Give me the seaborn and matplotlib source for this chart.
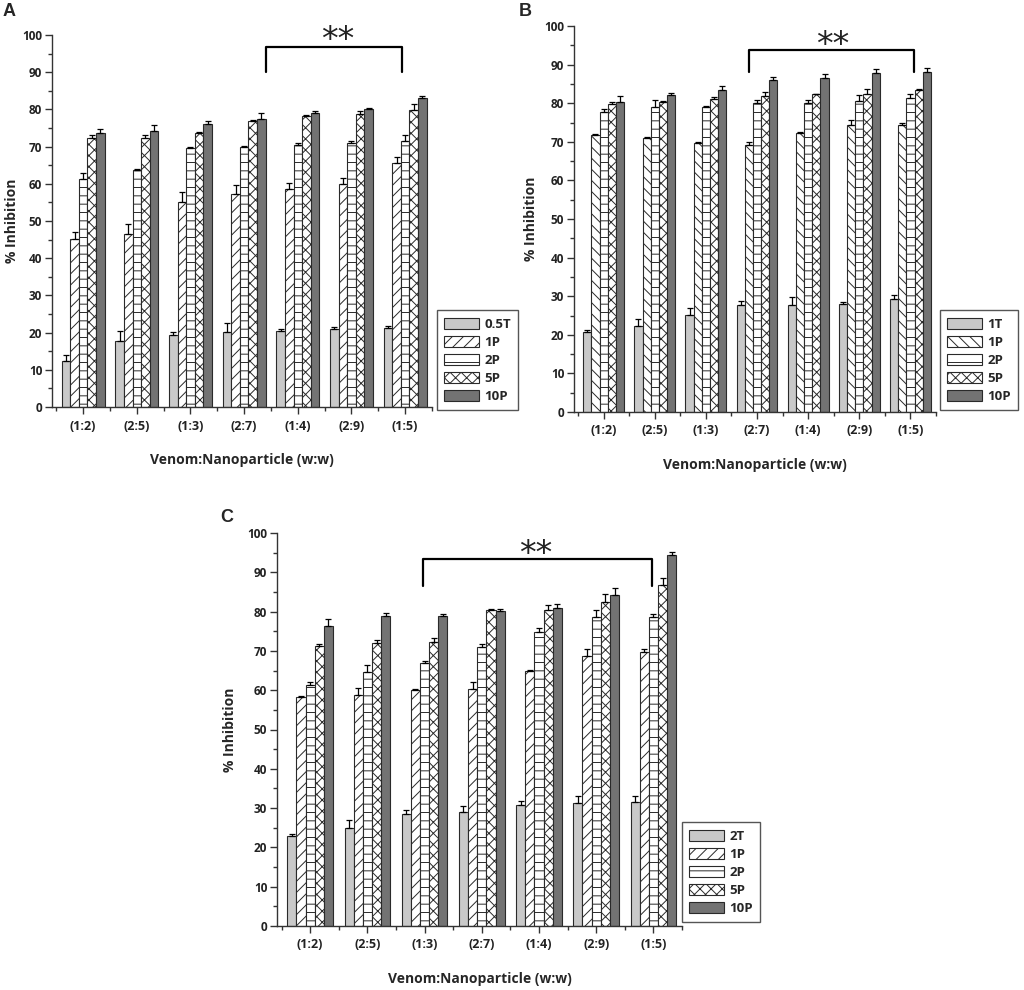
#!/usr/bin/env python3
import numpy as np
import matplotlib
matplotlib.use("Agg")
import matplotlib.pyplot as plt
from matplotlib.ticker import MultipleLocator, FixedLocator
import seaborn as sns
import pandas as pd

# x categories shared by all three panels
RATIOS = ["(1:2)", "(2:5)", "(1:3)", "(2:7)", "(1:4)", "(2:9)", "(1:5)"]

# legend labels per panel (first series differs)
LABELS_A = ["0.5T", "1P", "2P", "5P", "10P"]
LABELS_B = ["1T", "1P", "2P", "5P", "10P"]
LABELS_C = ["2T", "1P", "2P", "5P", "10P"]

# % inhibition, one row per series, one column per ratio
MEANS_A = [
    [12.5, 17.8, 19.3, 20.2, 20.5, 21.0, 21.3],
    [45.1, 46.6, 55.2, 57.2, 58.5, 60.0, 65.5],
    [61.3, 63.7, 69.6, 70.0, 70.5, 71.0, 71.4],
    [72.3, 72.2, 73.6, 77.0, 78.2, 78.7, 79.8],
    [73.7, 74.1, 76.0, 77.4, 79.1, 80.2, 83.0],
]
ERRS_A = [
    [1.6, 2.7, 0.8, 2.5, 0.4, 0.5, 0.5],
    [2.0, 2.5, 2.7, 2.5, 1.7, 1.6, 1.7],
    [1.7, 0.4, 0.4, 0.2, 0.5, 0.4, 1.7],
    [0.8, 0.8, 0.4, 0.2, 0.4, 0.8, 1.6],
    [0.9, 1.7, 0.8, 1.6, 0.4, 0.2, 0.5],
]

MEANS_B = [
    [20.8, 22.2, 25.2, 27.8, 27.8, 28.1, 29.4],
    [71.8, 71.0, 69.7, 69.2, 72.3, 74.4, 74.3],
    [77.7, 78.9, 79.0, 80.0, 80.0, 80.6, 81.4],
    [79.9, 80.3, 81.2, 81.8, 82.3, 82.4, 83.4],
    [80.4, 82.2, 83.5, 86.0, 86.4, 87.7, 88.1],
]
ERRS_B = [
    [0.4, 1.9, 1.8, 0.9, 2.0, 0.4, 0.8],
    [0.2, 0.2, 0.3, 0.8, 0.2, 1.3, 0.7],
    [0.9, 1.8, 0.3, 0.8, 0.7, 1.6, 0.9],
    [0.3, 0.3, 0.5, 1.1, 0.2, 1.4, 0.4],
    [1.5, 0.5, 0.9, 0.9, 1.1, 1.1, 1.0],
]

MEANS_C = [
    [23.0, 25.0, 28.6, 28.9, 30.8, 31.3, 31.6],
    [58.2, 58.8, 60.0, 60.2, 64.8, 68.8, 69.7],
    [61.2, 64.7, 67.0, 70.9, 74.8, 78.6, 78.5],
    [71.3, 72.0, 72.3, 80.4, 80.4, 82.4, 86.8],
    [76.3, 78.9, 79.0, 80.2, 81.0, 84.3, 94.4],
]
ERRS_C = [
    [0.4, 1.9, 0.8, 1.7, 0.9, 1.8, 1.6],
    [0.3, 1.8, 0.4, 1.9, 0.4, 1.6, 0.8],
    [0.9, 1.7, 0.4, 0.8, 1.0, 1.7, 0.9],
    [0.4, 0.7, 0.9, 0.3, 1.2, 2.2, 1.7],
    [1.7, 0.7, 0.5, 0.5, 0.9, 1.7, 0.7],
]

FILL = ["#c9c9c9", "white", "white", "white", "#737373"]
HATCH_FWD = ["", "///", "--", "xxx", ""]
HATCH_BACK = ["", "\\\\\\", "--", "xxx", ""]

YLABEL = "% Inhibition"
XLABEL = "Venom:Nanoparticle (w:w)"

W, H = 1024, 990


def px_axes(fig, left, right, top, bottom):
    # pixel box -> figure fraction
    return fig.add_axes([left / W, 1 - bottom / H, (right - left) / W,
                         (bottom - top) / H])


def draw_panel(fig, ax, means, errs, labels, hatches, legend_xy, bracket,
               ylabel_x):
    rows = []
    for lab, vals in zip(labels, means):
        for r, v in zip(RATIOS, vals):
            rows.append([r, lab, v])
    df = pd.DataFrame(rows, columns=["ratio", "series", "value"])

    palette = dict(zip(labels, FILL))
    sns.barplot(data=df, x="ratio", y="value", hue="series",
                order=RATIOS, hue_order=labels, palette=palette,
                saturation=1, edgecolor="#2a2a2a", linewidth=0.8,
                errorbar=None, legend=False, ax=ax)

    for cont, h, err in zip(ax.containers, hatches, errs):
        xs, ys = [], []
        for bar in cont:
            bar.set_hatch(h)
            xs.append(bar.get_x() + bar.get_width() / 2)
            ys.append(bar.get_height())
        err = np.asarray(err)
        ax.errorbar(xs, ys, yerr=[np.zeros_like(err), err], fmt="none",
                    ecolor="black", elinewidth=0.9, capsize=2.5,
                    capthick=0.9, zorder=3)

    ax.set_xlim(-0.58, 6.5)
    ax.set_ylim(0, 100)
    ax.set_yticks(range(0, 101, 10))
    ax.yaxis.set_minor_locator(MultipleLocator(5))
    ax.xaxis.set_minor_locator(FixedLocator(np.arange(-0.5, 6.6, 1)))
    sns.despine(ax=ax)
    for sp in ("left", "bottom"):
        ax.spines[sp].set_color("#333333")
        ax.spines[sp].set_linewidth(1.0)
    ax.tick_params(which="major", direction="out", length=5, width=1,
                   color="#333333", labelcolor="#222222")
    ax.tick_params(which="minor", direction="out", length=3, width=1,
                   color="#333333")
    ax.tick_params(axis="x", labelsize=9, pad=4)
    ax.tick_params(axis="y", labelsize=8.5, pad=2)
    for t in ax.get_xticklabels() + ax.get_yticklabels():
        t.set_fontweight("bold")

    ax.set_xlabel(XLABEL, fontsize=10, fontweight="bold", labelpad=15)
    ax.set_ylabel(YLABEL, fontsize=10, fontweight="bold")
    # the label's anchor is its right edge; pin it to a pixel column
    pos = ax.get_position()
    ax.yaxis.set_label_coords((ylabel_x / W - pos.x0) / pos.width, 0.5)

    leg = ax.legend(handles=ax.containers, labels=labels, loc="lower left",
                    bbox_to_anchor=(legend_xy[0] / W, 1 - legend_xy[1] / H),
                    bbox_transform=fig.transFigure, fancybox=False,
                    framealpha=1, edgecolor="#555555",
                    prop=dict(weight="bold", size=9.5), handlelength=2.6,
                    handleheight=0.9, labelspacing=0.38, borderpad=0.55,
                    handletextpad=0.45, borderaxespad=0)
    leg.get_frame().set_linewidth(1.0)

    x1, x2, low, top, sx, sy = bracket
    ax.plot([x1, x1, x2, x2], [low, top, top, low], color="black", lw=1.6,
            clip_on=False, zorder=4, solid_joinstyle="round")
    ax.text(sx, sy, "**", ha="center", va="baseline", fontsize=24,
            color="#222222", clip_on=False, family="DejaVu Sans")


def main():
    sns.set_style("ticks")
    plt.rcParams["font.family"] = ["Open Sans", "DejaVu Sans"]
    plt.rcParams["hatch.linewidth"] = 0.7

    fig = plt.figure(figsize=(W / 100, H / 100), dpi=100)

    ax_a = px_axes(fig, 52, 432, 35, 407)
    ax_b = px_axes(fig, 574, 936, 26, 412)
    ax_c = px_axes(fig, 277, 682, 533, 926)

    draw_panel(fig, ax_a, MEANS_A, ERRS_A, LABELS_A, HATCH_FWD, (437, 410),
               (3.4, 5.95, 90.1, 96.9, 4.75, 96.0), 19)
    draw_panel(fig, ax_b, MEANS_B, ERRS_B, LABELS_B, HATCH_BACK, (940, 410),
               (2.85, 6.06, 88.1, 93.8, 4.47, 92.4), 538)
    draw_panel(fig, ax_c, MEANS_C, ERRS_C, LABELS_C, HATCH_FWD, (682, 922),
               (1.98, 5.98, 86.5, 93.5, 3.95, 92.2), 237)

    for letter, (x, y) in zip("ABC", [(9, 12), (525, 12), (227, 518)]):
        fig.text(x / W, 1 - y / H, letter, fontsize=13, fontweight="bold",
                 ha="center", va="center", family="Liberation Sans")

    fig.savefig("out.png", dpi=100)
    plt.close()


if __name__ == "__main__":
    main()
